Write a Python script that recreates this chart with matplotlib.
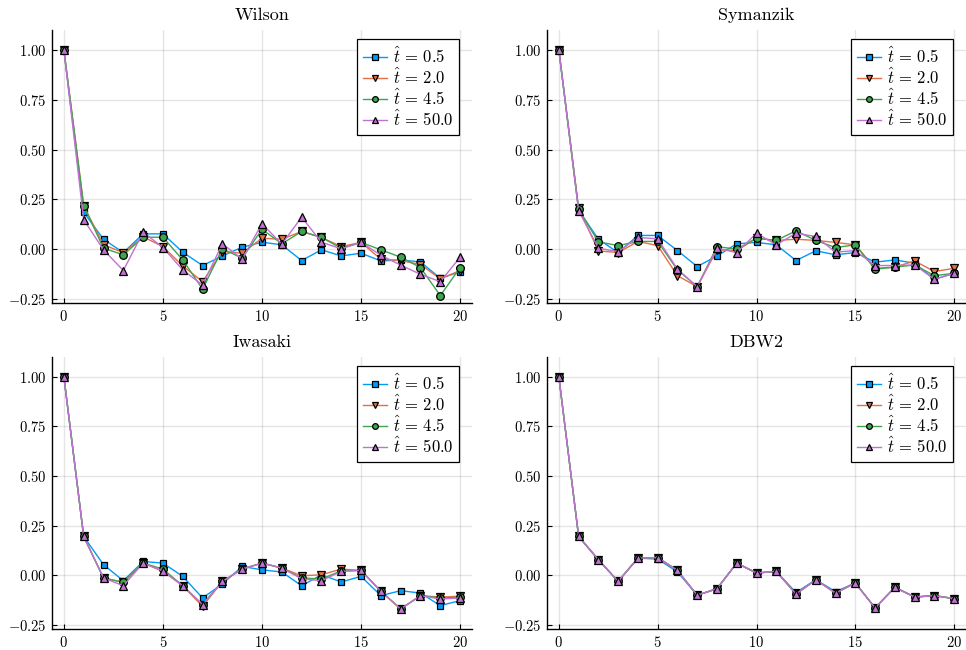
import matplotlib
matplotlib.use("Agg")
import matplotlib.pyplot as plt
import numpy as np

plt.rcParams["font.family"] = "serif"
plt.rcParams["font.serif"] = ["cmr10", "DejaVu Serif"]
plt.rcParams["mathtext.fontset"] = "cm"
plt.rcParams["axes.formatter.use_mathtext"] = True

steps = list(range(21))
flow_times = ["0.5", "2.0", "4.5", "50.0"]
colors = ["#009AFA", "#E36F47", "#3EA44E", "#C271D2"]
markers = ["s", "v", "o", "^"]

wilson = [
    [1.0, 0.185, 0.05, -0.017, 0.077, 0.077, -0.015, -0.082, -0.034, 0.01, 0.035,
     0.022, -0.057, -0.003, -0.034, -0.02, -0.059, -0.054, -0.064, -0.146, -0.114],
    [1.0, 0.218, 0.022, -0.017, 0.062, 0.013, -0.084, -0.163, -0.012, -0.02, 0.055,
     0.05, 0.089, 0.059, 0.013, 0.034, -0.05, -0.057, -0.077, -0.149, -0.107],
    [1.0, 0.218, 0.005, -0.028, 0.06, 0.06, -0.054, -0.2, 0.002, -0.045, 0.10,
     0.027, 0.089, 0.059, 0.005, 0.034, -0.003, -0.04, -0.092, -0.233, -0.092],
    [1.0, 0.148, -0.003, -0.107, 0.086, 0.008, -0.104, -0.18, 0.027, -0.049, 0.128,
     0.025, 0.161, 0.035, 0.002, 0.034, -0.03, -0.08, -0.126, -0.163, -0.04],
]

symanzik = [
    [1.0, 0.195, 0.05, -0.017, 0.069, 0.069, -0.007, -0.087, -0.034, 0.027, 0.034,
     0.022, -0.057, -0.008, -0.028, -0.017, -0.065, -0.054, -0.07, -0.151, -0.121],
    [1.0, 0.206, -0.008, -0.017, 0.039, 0.018, -0.133, -0.188, -0.003, -0.007, 0.055,
     0.044, 0.05, 0.044, 0.034, 0.022, -0.096, -0.09, -0.059, -0.112, -0.096],
    [1.0, 0.2, 0.037, 0.018, 0.039, 0.039, -0.104, -0.188, 0.013, 0.0, 0.055,
     0.044, 0.092, 0.044, 0.008, 0.022, -0.1, -0.09, -0.079, -0.133, -0.121],
    [1.0, 0.193, 0.005, -0.012, 0.059, 0.052, -0.1, -0.188, 0.005, -0.017, 0.08,
     0.022, 0.08, 0.064, -0.015, -0.007, -0.082, -0.082, -0.079, -0.151, -0.121],
]

iwasaki = [
    [1.0, 0.196, 0.054, -0.027, 0.07, 0.062, -0.005, -0.114, -0.043, 0.045, 0.028,
     0.017, -0.052, 0.003, -0.033, -0.005, -0.102, -0.077, -0.089, -0.152, -0.127],
    [1.0, 0.196, -0.013, -0.035, 0.062, 0.02, -0.052, -0.156, -0.03, 0.032, 0.062,
     0.037, -0.002, 0.003, 0.032, 0.025, -0.08, -0.169, -0.102, -0.109, -0.105],
    [1.0, 0.196, -0.013, -0.035, 0.062, 0.032, -0.052, -0.147, -0.03, 0.032, 0.062,
     0.037, -0.013, -0.018, 0.023, 0.025, -0.08, -0.169, -0.102, -0.114, -0.11],
    [1.0, 0.196, -0.013, -0.052, 0.062, 0.023, -0.052, -0.147, -0.03, 0.032, 0.062,
     0.037, -0.017, -0.027, 0.02, 0.025, -0.08, -0.169, -0.102, -0.119, -0.114],
]

dbw2 = [
    [1.0, 0.196, 0.079, -0.03, 0.087, 0.082, 0.018, -0.1, -0.067, 0.062, 0.012,
     0.02, -0.086, -0.022, -0.082, -0.038, -0.164, -0.06, -0.109, -0.102, -0.117],
    [1.0, 0.196, 0.079, -0.03, 0.087, 0.09, 0.025, -0.1, -0.067, 0.062, 0.012,
     0.02, -0.094, -0.022, -0.089, -0.038, -0.164, -0.06, -0.109, -0.102, -0.117],
    [1.0, 0.196, 0.079, -0.03, 0.087, 0.09, 0.025, -0.1, -0.067, 0.062, 0.012,
     0.02, -0.094, -0.022, -0.089, -0.038, -0.164, -0.06, -0.109, -0.102, -0.117],
    [1.0, 0.196, 0.079, -0.03, 0.087, 0.09, 0.025, -0.1, -0.067, 0.062, 0.012,
     0.02, -0.094, -0.022, -0.089, -0.038, -0.164, -0.06, -0.109, -0.102, -0.117],
]

panels = [("Wilson", wilson), ("Symanzik", symanzik),
          ("Iwasaki", iwasaki), ("DBW2", dbw2)]

yticks = [-0.25, 0.0, 0.25, 0.5, 0.75, 1.0]
xticks = [0, 5, 10, 15, 20]

fig = plt.figure(figsize=(9.66, 6.5), dpi=100)
W, H = 966.0, 650.0
# pixel boxes (left, right, top, bottom) of the four panels
boxes = [(52, 472, 30, 303), (547, 966, 30, 303),
         (52, 472, 357, 629), (547, 966, 357, 629)]

for (title, series), (l, r, t, b) in zip(panels, boxes):
    ax = fig.add_axes([l / W, (H - b) / H, (r - l) / W, (b - t) / H])
    for vals, c, m, ft in zip(series, colors, markers, flow_times):
        ms = 5.0 if m == "s" else 5.5
        ax.plot(steps, vals, color=c, lw=1.0, marker=m, markersize=ms,
                markerfacecolor=c, markeredgecolor="black", markeredgewidth=0.9,
                label=r"$\hat{t}\, =\, " + ft + "$")
    ax.set_xlim(-0.6, 20.6)
    ax.set_ylim(-0.27, 1.10)
    ax.set_xticks(xticks)
    ax.set_xticklabels([f"${v}$" for v in xticks])
    ax.set_yticks(yticks)
    ax.set_yticklabels([f"${v:.2f}$" for v in yticks])
    ax.grid(True, color="black", alpha=0.1, lw=1.0)
    ax.set_axisbelow(True)
    for s in ("top", "right"):
        ax.spines[s].set_visible(False)
    for s in ("left", "bottom"):
        ax.spines[s].set_linewidth(1.0)
    ax.tick_params(direction="in", length=3.5, width=0.8, labelsize=10.5, pad=4)
    ax.set_title(title, fontsize=13, pad=7)
    leg = ax.legend(loc="upper right", bbox_to_anchor=((459 - 52) / 420, (303 - 39) / 273),
                    borderaxespad=0, fancybox=False, framealpha=1.0, edgecolor="black",
                    fontsize=12, handlelength=1.45, handletextpad=0.35,
                    labelspacing=0.02, borderpad=0.35, markerscale=0.75)
    leg.get_frame().set_linewidth(0.9)

fig.savefig("out.png", dpi=100)
